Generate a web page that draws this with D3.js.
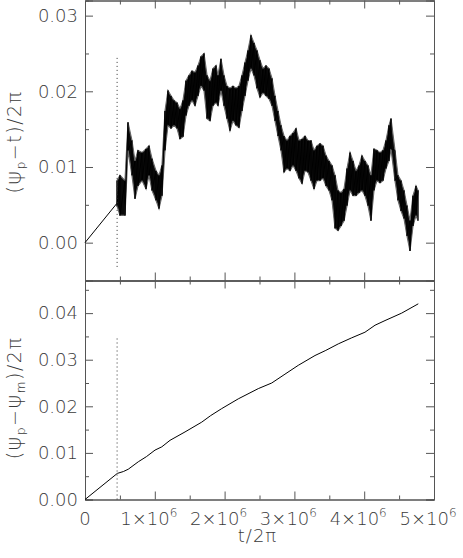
<!DOCTYPE html>
<html>
<head>
<meta charset="utf-8">
<script src="https://cdn.jsdelivr.net/npm/d3@7"></script>
<style>
  body { margin: 0; background: #fff; }
  svg { display: block; }
  text { font-family: "DejaVu Sans", sans-serif; fill: #3a3a3a; font-weight: 200; }
</style>
</head>
<body>
<div id="chart"></div>
<script>
// t/2pi in units of 1e6
const rampT = [0, 0.458];
const rampV = [0, 0.0052];

const noiseT = [0.458, 0.501, 0.573, 0.616, 0.673, 0.716, 0.759, 0.817, 0.874, 0.917,
  0.960, 1.017, 1.060, 1.103, 1.146, 1.189, 1.232, 1.275, 1.318, 1.361,
  1.404, 1.447, 1.490, 1.533, 1.576, 1.619, 1.662, 1.705, 1.748, 1.791,
  1.834, 1.877, 1.905, 1.948, 1.991, 2.034, 2.077, 2.120, 2.163, 2.206,
  2.249, 2.292, 2.335, 2.378, 2.421, 2.464, 2.507, 2.550, 2.593, 2.636,
  2.679, 2.722, 2.765, 2.808, 2.851, 2.894, 2.937, 2.980, 3.023, 3.066,
  3.109, 3.152, 3.195, 3.238, 3.281, 3.324, 3.367, 3.410, 3.453, 3.496,
  3.539, 3.582, 3.625, 3.668, 3.711, 3.754, 3.797, 3.840, 3.883, 3.926,
  3.968, 4.011, 4.054, 4.097, 4.140, 4.183, 4.226, 4.269, 4.312, 4.355,
  4.384, 4.441, 4.484, 4.527, 4.570, 4.613, 4.656, 4.699, 4.742, 4.771];
const noiseHi = [0.0082, 0.0089, 0.0082, 0.0159, 0.0135, 0.0108, 0.0122, 0.0119, 0.0124, 0.0128,
  0.0111, 0.0095, 0.0089, 0.0102, 0.0174, 0.0201, 0.0194, 0.0188, 0.0185, 0.0177,
  0.0188, 0.0214, 0.0221, 0.0227, 0.0225, 0.0234, 0.0246, 0.0250, 0.0221, 0.0214,
  0.0230, 0.0234, 0.0221, 0.0243, 0.0221, 0.0207, 0.0204, 0.0207, 0.0204, 0.0207,
  0.0221, 0.0238, 0.0254, 0.0274, 0.0264, 0.0254, 0.0241, 0.0230, 0.0234, 0.0230,
  0.0217, 0.0194, 0.0174, 0.0155, 0.0141, 0.0135, 0.0141, 0.0145, 0.0151, 0.0135,
  0.0137, 0.0141, 0.0135, 0.0135, 0.0122, 0.0128, 0.0131, 0.0128, 0.0115, 0.0108,
  0.0102, 0.0089, 0.0069, 0.0066, 0.0071, 0.0098, 0.0119, 0.0108, 0.0095, 0.0102,
  0.0115, 0.0108, 0.0102, 0.0089, 0.0124, 0.0122, 0.0119, 0.0122, 0.0135, 0.0155,
  0.0164, 0.0122, 0.0089, 0.0082, 0.0069, 0.0049, 0.0029, 0.0062, 0.0075, 0.0069];
const noiseLo = [0.0049, 0.0036, 0.0036, 0.0122, 0.0089, 0.0058, 0.0075, 0.0082, 0.0071, 0.0089,
  0.0069, 0.0056, 0.0045, 0.0062, 0.0122, 0.0155, 0.0151, 0.0155, 0.0151, 0.0137,
  0.0140, 0.0168, 0.0181, 0.0188, 0.0181, 0.0194, 0.0207, 0.0201, 0.0164, 0.0161,
  0.0181, 0.0185, 0.0181, 0.0201, 0.0181, 0.0164, 0.0148, 0.0161, 0.0155, 0.0152,
  0.0174, 0.0194, 0.0214, 0.0230, 0.0221, 0.0204, 0.0192, 0.0198, 0.0194, 0.0190,
  0.0181, 0.0161, 0.0141, 0.0122, 0.0093, 0.0098, 0.0095, 0.0102, 0.0095, 0.0085,
  0.0078, 0.0095, 0.0093, 0.0082, 0.0071, 0.0082, 0.0082, 0.0085, 0.0075, 0.0069,
  0.0056, 0.0019, 0.0016, 0.0022, 0.0029, 0.0049, 0.0069, 0.0062, 0.0062, 0.0066,
  0.0069, 0.0062, 0.0049, 0.0029, 0.0069, 0.0082, 0.0079, 0.0082, 0.0098, 0.0108,
  0.0124, 0.0082, 0.0056, 0.0042, 0.0032, 0.0009, -0.0011, 0.0022, 0.0036, 0.0029];

const botT = [0, 0.463, 0.55, 0.62, 0.764, 0.88, 1.003, 1.10, 1.218, 1.433, 1.672, 1.80, 1.958,
  2.196, 2.483, 2.675, 2.865, 3.056, 3.295, 3.45, 3.629, 3.821, 4.011, 4.155, 4.298, 4.537, 4.775];
const botV = [0, 0.0056, 0.0060, 0.0065, 0.0081, 0.0092, 0.0106, 0.0113, 0.0127, 0.0145, 0.0166, 0.0180, 0.0195,
  0.0216, 0.0238, 0.0250, 0.0269, 0.0288, 0.0309, 0.0320, 0.0334, 0.0347, 0.0359, 0.0374, 0.0384, 0.0400, 0.0420];

const markT = 0.46;
const markTop = [-0.0032, 0.0245];
const markBot = [0, 0.0346];

const xTicks = [0, 1, 2, 3, 4, 5];
const xMinor = [0.5, 1.5, 2.5, 3.5, 4.5];
const topTicks = [0, 0.01, 0.02, 0.03];
const topMinor = [-0.005, 0.005, 0.015, 0.025];
const botTicks = [0, 0.01, 0.02, 0.03, 0.04];
const botMinor = [0.005, 0.015, 0.025, 0.035, 0.045];

let width = 463, height = 558;
let left = 85, right = 434;
let topPanel = [0.5, 280.5], botPanel = [280.5, 499.5];

let svg = d3.select('#chart').append('svg')
  .attr('width', width)
  .attr('height', height);

let x = d3.scaleLinear().domain([0, 5]).range([left, right]);
let yTop = d3.scaleLinear().domain([-0.005, 0.032]).range([topPanel[1], topPanel[0]]);
let yBot = d3.scaleLinear().domain([0, 0.047]).range([botPanel[1], botPanel[0]]);

function frame(y, y0, y1, ticks, minor, fmt) {
  let g = svg.append('g').attr('class', 'frame');
  // major + minor ticks on all four sides, pointing inward
  g.append('g').attr('transform', `translate(${left},0)`)
    .call(d3.axisLeft(y).tickValues(ticks).tickSize(-8).tickPadding(7).tickFormat(fmt));
  g.append('g').attr('transform', `translate(${left},0)`)
    .call(d3.axisLeft(y).tickValues(minor).tickSize(-4).tickFormat(''));
  g.append('g').attr('transform', `translate(${right},0)`)
    .call(d3.axisRight(y).tickValues(ticks).tickSize(-8).tickFormat(''));
  g.append('g').attr('transform', `translate(${right},0)`)
    .call(d3.axisRight(y).tickValues(minor).tickSize(-4).tickFormat(''));
  g.append('g').attr('transform', `translate(0,${y1})`)
    .call(d3.axisBottom(x).tickValues(xTicks).tickSize(-8).tickFormat(''));
  g.append('g').attr('transform', `translate(0,${y1})`)
    .call(d3.axisBottom(x).tickValues(xMinor).tickSize(-4).tickFormat(''));
  g.append('g').attr('transform', `translate(0,${y0})`)
    .call(d3.axisTop(x).tickValues(xTicks).tickSize(-8).tickFormat(''));
  g.append('g').attr('transform', `translate(0,${y0})`)
    .call(d3.axisTop(x).tickValues(xMinor).tickSize(-4).tickFormat(''));
  g.selectAll('.domain').attr('stroke', '#555');
  g.selectAll('.tick line').attr('stroke', '#555');
  g.selectAll('.tick text')
    .style('font-size', '18px')
    .style('font-family', '"DejaVu Sans", sans-serif')
    .style('font-weight', 200)
    .attr('fill', '#3a3a3a');
}

frame(yTop, topPanel[0], topPanel[1], topTicks, topMinor, d3.format('.2f'));
frame(yBot, botPanel[0], botPanel[1], botTicks, botMinor, d3.format('.2f'));

// top panel: ramp then noisy trace
let line = d3.line();
svg.append('path')
  .attr('d', line(rampT.map((t, i) => [x(t), yTop(rampV[i])])))
  .attr('fill', 'none').attr('stroke', '#000').attr('stroke-width', 1);

let band = d3.area()
  .x((d, i) => x(noiseT[i]))
  .y0((d, i) => yTop(noiseLo[i]))
  .y1((d, i) => yTop(noiseHi[i]));
svg.append('path')
  .attr('d', band(noiseT))
  .attr('fill', '#0a0a0a')
  .attr('stroke', '#666')
  .attr('stroke-width', 1.2);

let zig = [];
noiseT.forEach((t, i) => {
  zig.push([x(t), yTop(noiseHi[i])]);
  zig.push([x(t), yTop(noiseLo[i])]);
});
svg.append('path')
  .attr('d', line(zig))
  .attr('fill', 'none').attr('stroke', '#000').attr('stroke-width', 1);

// bottom panel
svg.append('path')
  .attr('d', line(botT.map((t, i) => [x(t), yBot(botV[i])])))
  .attr('fill', 'none').attr('stroke', '#000').attr('stroke-width', 1);

// dotted markers
svg.append('line')
  .attr('x1', x(markT)).attr('x2', x(markT))
  .attr('y1', yTop(markTop[0])).attr('y2', yTop(markTop[1]))
  .attr('stroke', '#333').attr('stroke-dasharray', '1,3');
svg.append('line')
  .attr('x1', x(markT)).attr('x2', x(markT))
  .attr('y1', yBot(markBot[0])).attr('y2', yBot(markBot[1]))
  .attr('stroke', '#333').attr('stroke-dasharray', '1,3');

// x tick labels with superscript exponent
let xl = svg.append('g').style('font-size', '18px');
xTicks.forEach(v => {
  let t = xl.append('text')
    .attr('x', v === 0 ? x(v) : x(v) - 6)
    .attr('y', 525)
    .attr('text-anchor', 'middle');
  if (v === 0) { t.text('0'); return; }
  t.append('tspan').text(v + '×10');
  t.append('tspan').text('6').attr('dy', -8).style('font-size', '12px');
});

svg.append('text')
  .attr('x', (left + right) / 2 - 2)
  .attr('y', 542)
  .attr('text-anchor', 'middle')
  .style('font-size', '18px')
  .style('letter-spacing', '1px')
  .text('t/2π');

// y titles
function yTitle(cy, parts) {
  let t = svg.append('text')
    .attr('transform', `translate(21,${cy}) rotate(-90)`)
    .attr('text-anchor', 'middle')
    .style('font-size', '19px')
    .style('letter-spacing', '1.5px');
  parts.forEach(p => {
    let s = t.append('tspan').text(p.s);
    if (p.big) s.style('font-size', '21px');
    if (p.sub) s.style('font-size', '12px').attr('dy', 4);
    if (p.up) s.attr('dy', -4);
  });
}
yTitle(142, [{ s: '(' }, { s: 'ψ', big: true }, { s: 'p', sub: true }, { s: '−', up: true },
  { s: 't' }, { s: ')/2π' }]);
yTitle(398, [{ s: '(' }, { s: 'ψ', big: true }, { s: 'p', sub: true }, { s: '−', up: true },
  { s: 'ψ', big: true }, { s: 'm', sub: true }, { s: ')/2π', up: true }]);
</script>
</body>
</html>
